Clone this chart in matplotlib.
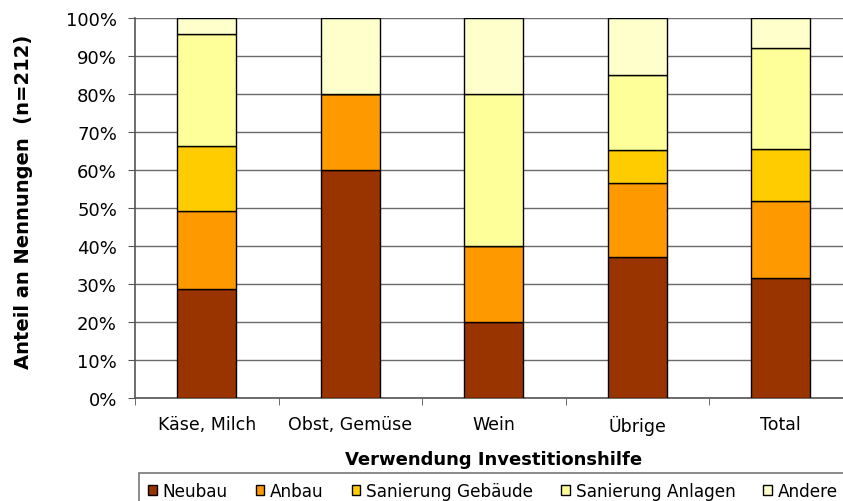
import numpy as np
import matplotlib
matplotlib.use("Agg")
import matplotlib.pyplot as plt
from matplotlib.ticker import PercentFormatter

categories = ["Käse, Milch", "Obst, Gemüse", "Wein", "Übrige", "Total"]
series = ["Neubau", "Anbau", "Sanierung Gebäude", "Sanierung Anlagen", "Andere"]
colors = ["#993300", "#FF9900", "#FFCC00", "#FFFF99", "#FFFFCC"]

neubau = [28.6, 60.0, 20.0, 37.0, 31.6]
anbau = [20.7, 20.0, 20.0, 19.6, 20.3]
san_geb = [17.0, 0.0, 0.0, 8.7, 13.7]
san_anl = [29.5, 0.0, 40.0, 19.6, 26.4]
andere = [4.2, 20.0, 20.0, 15.1, 8.0]
values = [neubau, anbau, san_geb, san_anl, andere]

plt.rcParams['font.family'] = ['DejaVu Sans']

fig = plt.figure(figsize=(8.43, 5.02), dpi=100)
ax = fig.add_axes([135/843, 103/502, 717.5/843, 380/502])

x = np.arange(len(categories))
bottom = np.zeros(len(categories))
handles = []
for name, vals, col in zip(series, values, colors):
    b = ax.bar(x, vals, 0.41, bottom=bottom, color=col, edgecolor="black",
               linewidth=1, label=name, zorder=3)
    handles.append(b)
    bottom += np.array(vals)

ax.set_xlim(-0.5, len(categories) - 0.5)
ax.set_ylim(0, 100)
ax.set_yticks(np.arange(0, 101, 10))
ax.yaxis.set_major_formatter(PercentFormatter(decimals=0))
ax.yaxis.grid(True, color="#6a6a6a", linewidth=1, zorder=0)

ax.set_xticks(x)
ax.set_xticklabels(categories)
ax.set_xticks(np.arange(-0.5, len(categories), 1), minor=True)
ax.tick_params(axis="x", which="major", length=0, pad=12, labelsize=12.5)
ax.tick_params(axis="x", which="minor", length=5, color="#555555")
ax.tick_params(axis="y", length=5, color="#555555", labelsize=13, pad=8)

for s in ["top", "right"]:
    ax.spines[s].set_visible(False)
for s in ["left", "bottom"]:
    ax.spines[s].set_color("#555555")
    ax.spines[s].set_linewidth(1.2)

ax.set_ylabel("Anteil an Nennungen  (n=212)", fontsize=14, fontweight="bold")
ax.set_xlabel("Verwendung Investitionshilfe", fontsize=13, fontweight="bold", labelpad=11)
ax.yaxis.set_label_coords(-0.142, 0.518)

leg = fig.legend(handles=handles, labels=series, loc="upper left",
                 bbox_to_anchor=(139/843, 28/502), ncol=5, fontsize=12.2,
                 frameon=True, fancybox=False, edgecolor="#555555",
                 handlelength=0.5, handleheight=0.5, handletextpad=0.35,
                 columnspacing=1.65, borderpad=0.55, borderaxespad=0)
leg.get_frame().set_linewidth(1.2)

fig.savefig("out.png", dpi=100)
